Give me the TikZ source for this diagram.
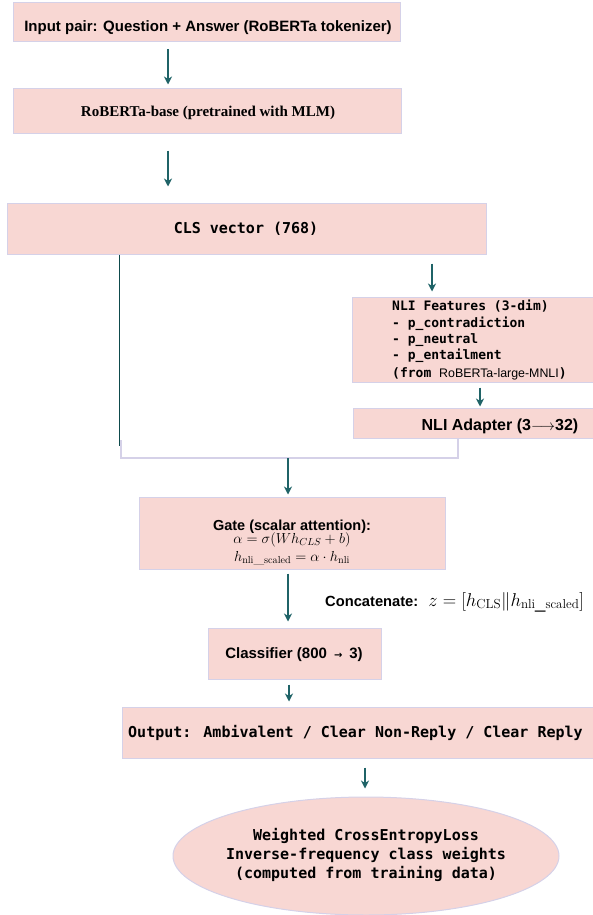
\RequirePackage{fix-cm}
\documentclass[tikz,border=0pt]{standalone}
\usepackage{fontspec}
\usetikzlibrary{arrows.meta,shapes.geometric}
\newfontfamily\sansf{Liberation Sans}
\newfontfamily\seriff{Liberation Serif}
\newfontfamily\monof{DejaVu Sans Mono}
\newfontfamily\dejavu{DejaVu Sans}
\definecolor{boxfill}{HTML}{F8D7D3}
\definecolor{boxline}{HTML}{D5D1E8}
\definecolor{flow}{HTML}{1F6367}
\definecolor{trunk}{HTML}{0E4A4C}
\tikzset{
  stagebox/.style={draw=boxline, fill=boxfill, line width=1pt, inner sep=0pt, rectangle},
  lossbox/.style={draw=boxline, fill=boxfill, line width=1pt, inner sep=0pt, ellipse},
  flowarrow/.style={draw=flow, line width=1.3pt, -{Stealth[length=8pt,width=8pt,inset=2.5pt]}},
  trunkline/.style={draw=trunk, line width=1.2pt},
  mergeline/.style={draw=boxline, line width=2pt},
  sanstxt/.style={inner sep=0pt, font=\sansf\bfseries\fontsize{15}{18}\selectfont},
  seriftxt/.style={inner sep=0pt, font=\seriff\bfseries\fontsize{15}{18}\selectfont},
  monotxt/.style={inner sep=0pt, font=\monof\bfseries\fontsize{15}{19}\selectfont},
  mathtxt/.style={inner sep=0pt, font=\fontsize{14.5}{17}\selectfont},
}
\begin{document}
\begin{tikzpicture}[x=1pt,y=-1pt]
\useasboundingbox (0,0) rectangle (592,915);

% stage boxes
\node[stagebox, minimum width=387pt, minimum height=39pt] (input) at (206.5,22.5) {};
\node[stagebox, minimum width=388pt, minimum height=45pt] (roberta) at (207,111.5) {};
\node[stagebox, minimum width=479pt, minimum height=51pt] (cls) at (246.5,228.5) {};
\node[stagebox, minimum width=268pt, minimum height=85pt] (nli) at (486,339.5) {};
\node[stagebox, minimum width=297pt, minimum height=30pt] (adapter) at (501.5,423) {};
\node[stagebox, minimum width=306pt, minimum height=72pt] (gate) at (292,533) {};
\node[stagebox, minimum width=173pt, minimum height=51pt] (classifier) at (294.5,653.5) {};
\node[stagebox, minimum width=478pt, minimum height=51pt] (output) at (361,732.5) {};
\node[lossbox, minimum width=386pt, minimum height=118pt] (loss) at (366,856) {};

% texts
\node[sanstxt, anchor=base] (inputt) at (208,32) {Input pair: Question + Answer (RoBERTa tokenizer)};
\node[seriftxt, anchor=base] (robertat) at (208,117) {RoBERTa-base (pretrained with MLM)};
\node[monotxt, anchor=base] (clst) at (246,233) {CLS vector (768)};
\node[inner sep=0pt, anchor=north west, align=left,
      font=\monof\bfseries\fontsize{13}{16.3}\selectfont] (nlit) at (392,300)
  {NLI Features (3-dim)\\- p\_contradiction\\- p\_neutral\\- p\_entailment\\[2pt]%
   (from {\sansf\mdseries\fontsize{12.4}{16}\selectfont RoBERTa-large-MNLI})};
\node[sanstxt, anchor=base, font=\sansf\bfseries\fontsize{16}{19}\selectfont] (adaptert) at (500,430)
  {NLI Adapter (3{\fontsize{15}{18}\selectfont$\longrightarrow$}32)};
\node[sanstxt, anchor=base, font=\sansf\bfseries\fontsize{14.5}{17}\selectfont] (gatet) at (292,530) {Gate (scalar attention):};
\node[mathtxt, anchor=base] (gatem1) at (292,543) {$\alpha=\sigma(Wh_{CLS}+b)$};
\node[mathtxt, anchor=base] (gatem2) at (292,561.5) {$h_{\mathrm{nli\_scaled}}=\alpha\cdot h_{\mathrm{nli}}$};
\node[sanstxt, anchor=base west, font=\sansf\bfseries\fontsize{14.7}{17}\selectfont] (concat) at (325,606)
  {Concatenate:\hspace{10pt}{\mdseries\fontsize{18.6}{20}\selectfont$z=[h_{\mathrm{CLS}}\|h_{\mathrm{nli\_scaled}}]$}};
\node[sanstxt, anchor=base] (classifiert) at (294,658)
  {Classifier (800\hspace{7pt}{\dejavu\fontsize{10}{10}\selectfont →}\hspace{7pt}3)};
\node[monotxt, anchor=base west] (outputt) at (128,737) {Output: Ambivalent / Clear Non-Reply / Clear Reply};
\node[monotxt, align=center] (losst) at (366,855)
  {Weighted CrossEntropyLoss\\Inverse-frequency class weights\\(computed from training data)};

% arrow columns and merge points
\coordinate (colA) at (168,0);
\coordinate (colB) at (432,0);
\coordinate (colC) at (480,0);
\coordinate (colD) at (288,0);
\coordinate (colE) at (289,0);
\coordinate (colF) at (365,0);
\coordinate (trunkend) at (119.5,446);
\coordinate (mergetop) at (120.5,440);
\coordinate (mergeleft) at (120.5,458);
\coordinate (mergeright) at (458,458);
\coordinate (mergemid) at (288,458);

% connectors
\draw[flowarrow, shorten <=7pt, shorten >=4pt] (input.south -| colA) -- (roberta.north -| colA);
\draw[flowarrow, shorten <=16pt, shorten >=16pt] (roberta.south -| colA) -- (cls.north -| colA);
\draw[flowarrow, shorten <=9pt, shorten >=5pt] (cls.south -| colB) -- (nli.north -| colB);
\draw[flowarrow, shorten <=5pt, shorten >=1pt] (nli.south -| colC) -- (adapter.north -| colC);
\draw[trunkline] (cls.south -| trunkend) -- (trunkend);
\draw[mergeline] (mergetop) -- (mergeleft) -- (mergeright) -- (adapter.south -| mergeright);
\draw[flowarrow, shorten >=2pt] (mergemid) -- (gate.north -| mergemid);
\draw[flowarrow, shorten <=4pt, shorten >=6pt] (gate.south -| colD) -- (classifier.north -| colD);
\draw[flowarrow, shorten <=5pt, shorten >=5pt] (classifier.south -| colE) -- (output.north -| colE);
\draw[flowarrow, shorten <=9pt, shorten >=8pt] (output.south -| colF) -- (loss.north -| colF);
\end{tikzpicture}
\end{document}
